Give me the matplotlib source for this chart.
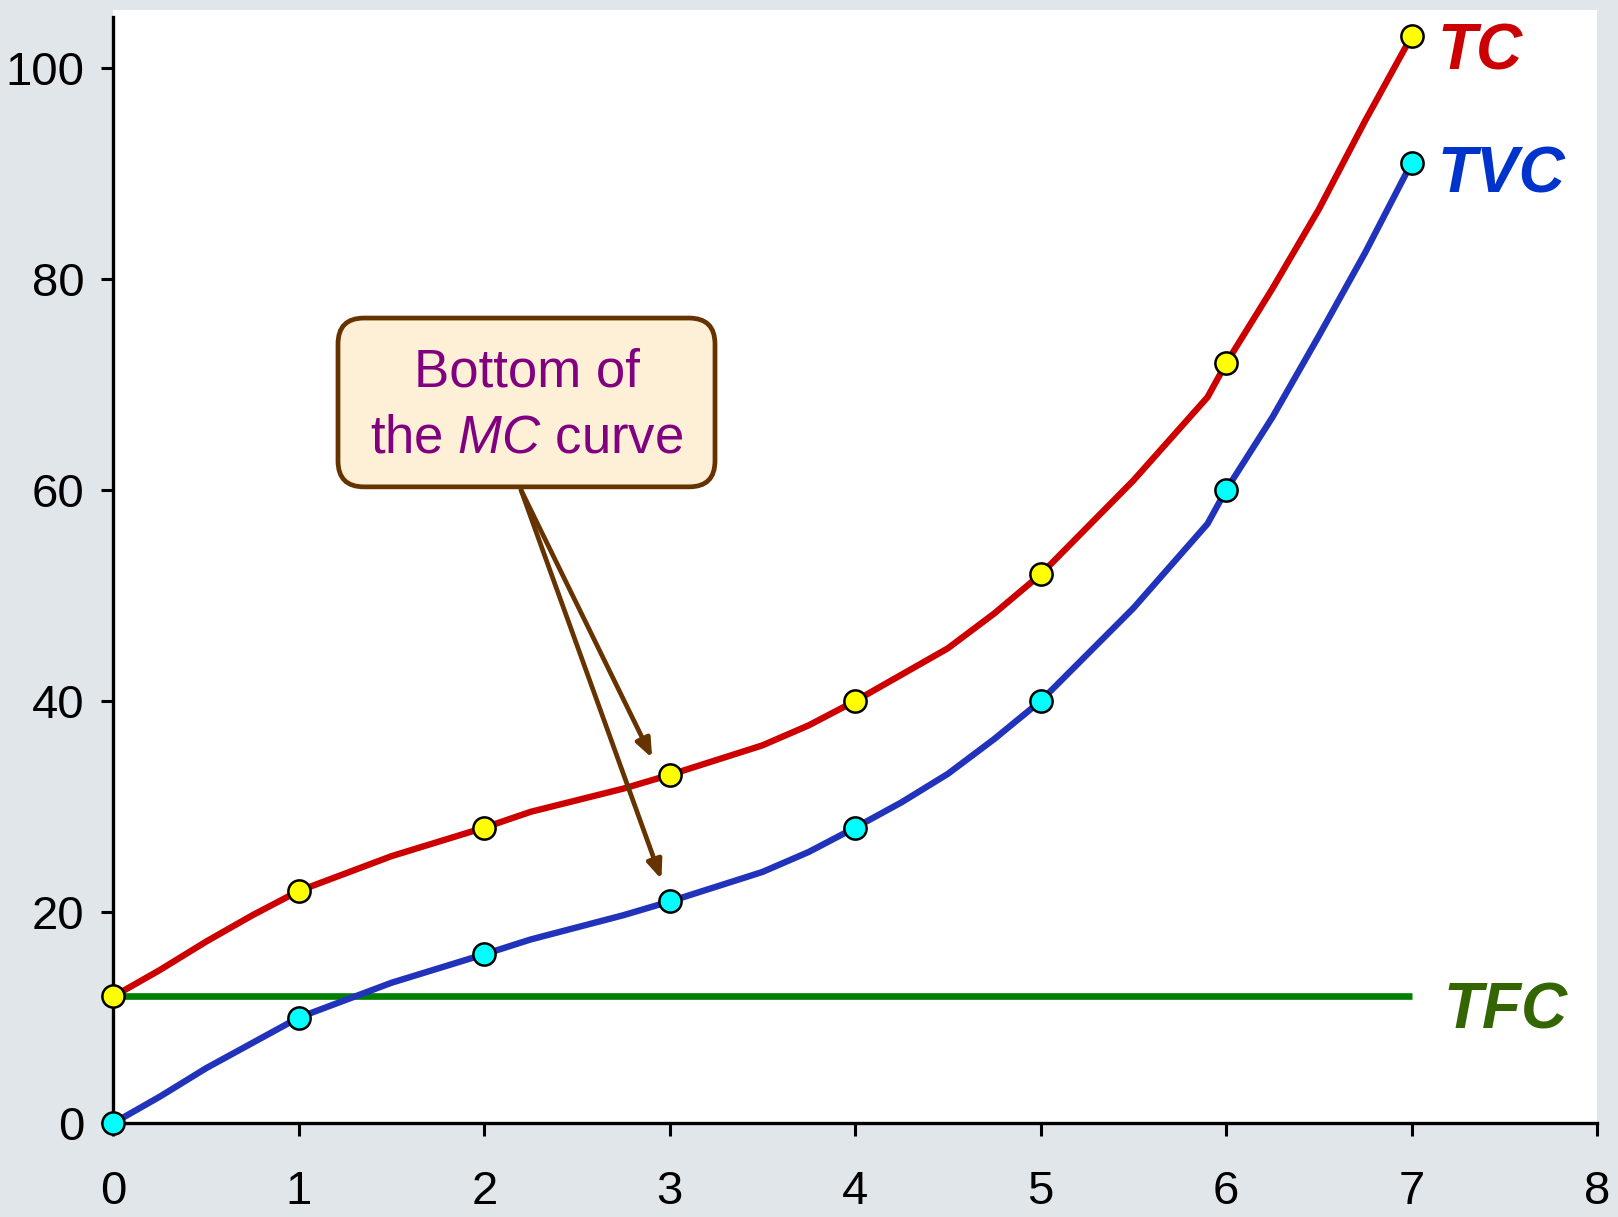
import matplotlib
matplotlib.use("Agg")
import matplotlib.pyplot as plt
from matplotlib.patches import FancyBboxPatch

plt.rcParams['font.family'] = ['Liberation Sans', 'DejaVu Sans']
plt.rcParams['mathtext.fontset'] = 'custom'
plt.rcParams['mathtext.rm'] = 'Liberation Sans'
plt.rcParams['mathtext.it'] = 'Liberation Sans:italic'

# output levels (the marked points)
output = [0, 1, 2, 3, 4, 5, 6, 7]
tc = [12, 22, 28, 33, 40, 52, 72, 103]
tvc = [0, 10, 16, 21, 28, 40, 60, 91]
tfc = [12, 12, 12, 12, 12, 12, 12, 12]

# curve paths (between the marked points)
curve_x = [0, 0.25, 0.5, 0.75, 1, 1.5, 2, 2.25, 2.75, 3, 3.5, 3.75, 4,
           4.25, 4.5, 4.75, 5, 5.5, 5.9, 6, 6.25, 6.5, 6.75, 7]
tc_curve = [12, 14.5, 17.2, 19.7, 22, 25.3, 28, 29.5, 31.7, 33, 35.8, 37.7, 40,
            42.5, 45.0, 48.3, 52, 60.9, 68.8, 72, 79.1, 86.6, 95.0, 103]
tvc_curve = [0, 2.5, 5.2, 7.6, 10, 13.3, 16, 17.4, 19.7, 21, 23.8, 25.7, 28,
             30.4, 33.1, 36.4, 40, 48.8, 56.8, 60, 66.9, 74.6, 82.5, 91]

xticks = [0, 1, 2, 3, 4, 5, 6, 7, 8]
yticks = [0, 20, 40, 60, 80, 100]

fig = plt.figure(figsize=(16.18, 12.17), dpi=100, facecolor='#E1E6EB')
ax = fig.add_axes([0.0701, 0.0772, 0.9169, 0.9146])
ax.set_facecolor('white')
ax.set_xlim(0, 8)
ax.set_ylim(0, 105.5)

for s in ['top', 'right']:
    ax.spines[s].set_visible(False)
for s in ['left', 'bottom']:
    ax.spines[s].set_linewidth(2.4)
    ax.spines[s].set_color('black')
ax.spines['left'].set_bounds(0, 104.8)

ax.set_xticks(xticks)
ax.set_yticks(yticks)
ax.tick_params(direction='out', length=9, width=2.2, colors='black')
ax.tick_params(axis='x', pad=25)
ax.tick_params(axis='y', pad=12)
for lab in ax.get_xticklabels() + ax.get_yticklabels():
    lab.set_fontsize(34)

# curves
ax.plot(output, tfc, color='#008000', lw=4.8, solid_capstyle='butt', zorder=2)
ax.plot(curve_x, tc_curve, color='#CC0000', lw=4.6, zorder=3)
ax.plot(curve_x, tvc_curve, color='#2233BB', lw=4.6, zorder=3)
ax.plot(output, tc, ls='none', marker='o', ms=16, mfc='#FFFF00', mec='black',
        mew=1.8, zorder=5, clip_on=False)
ax.plot(output, tvc, ls='none', marker='o', ms=16, mfc='#00FFFF', mec='black',
        mew=1.8, zorder=5, clip_on=False)

# curve labels
ax.text(7.14, 101.5, 'TC', color='#CC0000', fontsize=46, fontweight='bold',
        fontstyle='italic', va='center', ha='left')
ax.text(7.14, 89.8, 'TVC', color='#0033CC', fontsize=46, fontweight='bold',
        fontstyle='italic', va='center', ha='left')
ax.text(7.17, 10.6, 'TFC', color='#336600', fontsize=46, fontweight='bold',
        fontstyle='italic', va='center', ha='left')

# callout box
box = FancyBboxPatch((1.211, 60.3), 2.033, 16.0,
                     boxstyle='round,pad=0,rounding_size=0.14',
                     mutation_aspect=17.6, fc='#FDF0D6', ec='#663300',
                     lw=3.4, zorder=6)
ax.add_patch(box)
ax.text(2.228, 68.0, 'Bottom of\nthe $MC$ curve', color='#800080', fontsize=38,
        ha='center', va='center', linespacing=1.4, zorder=7)

for end in [(2.905, 34.6), (2.955, 23.1)]:
    ax.annotate('', xy=end, xytext=(2.198, 60.0),
                arrowprops=dict(arrowstyle='-|>,head_length=1.1,head_width=0.45',
                                color='#663300', lw=3.4, shrinkA=0, shrinkB=0),
                zorder=4)

fig.savefig('out.png', dpi=100, facecolor=fig.get_facecolor())
